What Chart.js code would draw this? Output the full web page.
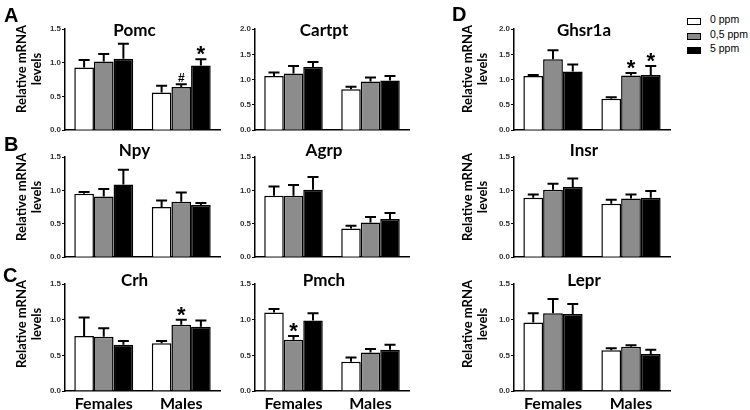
<!DOCTYPE html>
<html><head><meta charset="utf-8">
<script src="https://cdn.jsdelivr.net/npm/chart.js@4.4.0/dist/chart.umd.min.js"></script>
<style>
body{margin:0;background:#fff;width:750px;height:410px;position:relative;overflow:hidden}
.pc{position:absolute}
.ylab{position:absolute;width:120px;height:32px;font:bold 13px Lato,sans-serif;line-height:15px;text-align:center;color:#000;transform:rotate(-90deg);transform-origin:center center;white-space:nowrap}
.let{position:absolute;font:bold 20px "Liberation Sans",Arial,sans-serif;line-height:20px;color:#000}
.lg{position:absolute;left:687px;font:10.5px "Liberation Sans",Arial,sans-serif;color:#000}
.lg span.b{position:absolute;left:0;width:12px;height:5px;border:1.5px solid #000}
.lg span.t{position:absolute;left:23px;top:-5px;white-space:nowrap}
</style></head><body>
<script>
// ---------- DATA ----------
const groups = ['Females', 'Males'];
const seriesNames = ['0 ppm', '0,5 ppm', '5 ppm'];
const genes = ['Pomc', 'Cartpt', 'Ghsr1a', 'Npy', 'Agrp', 'Insr', 'Crh', 'Pmch', 'Lepr'];
const yMax = [1.5, 2.0, 2.0, 1.5, 1.5, 1.5, 1.5, 1.5, 1.5];
const yTicks = [0.0, 0.5, 1.0, 1.5, 2.0];
// means: [0 ppm, 0,5 ppm, 5 ppm] each [Females, Males]
const pomcMean   = [[0.93, 0.56], [1.02, 0.64], [1.06, 0.96]];
const pomcSem    = [[0.11, 0.10], [0.11, 0.04], [0.22, 0.09]];
const pomcSig    = [['', ''], ['', '#'], ['', '*']];
const cartptMean = [[1.07, 0.81], [1.12, 0.96], [1.25, 0.98]];
const cartptSem  = [[0.07, 0.05], [0.15, 0.08], [0.10, 0.09]];
const cartptSig  = [['', ''], ['', ''], ['', '']];
const ghsrMean   = [[1.07, 0.62], [1.40, 1.08], [1.16, 1.09]];
const ghsrSem    = [[0.02, 0.03], [0.18, 0.05], [0.14, 0.18]];
const ghsrSig    = [['', ''], ['', '*'], ['', '*']];
const npyMean    = [[0.95, 0.75], [0.91, 0.83], [1.09, 0.78]];
const npySem     = [[0.025, 0.10], [0.11, 0.14], [0.22, 0.03]];
const npySig     = [['', ''], ['', ''], ['', '']];
const agrpMean   = [[0.92, 0.43], [0.92, 0.52], [1.01, 0.57]];
const agrpSem    = [[0.14, 0.04], [0.16, 0.08], [0.19, 0.09]];
const agrpSig    = [['', ''], ['', ''], ['', '']];
const insrMean   = [[0.89, 0.80], [1.01, 0.88], [1.05, 0.89]];
const insrSem    = [[0.05, 0.06], [0.09, 0.06], [0.13, 0.10]];
const insrSig    = [['', ''], ['', ''], ['', '']];
const crhMean    = [[0.77, 0.67], [0.76, 0.93], [0.65, 0.90]];
const crhSem     = [[0.26, 0.03], [0.12, 0.07], [0.05, 0.09]];
const crhSig     = [['', ''], ['', '*'], ['', '']];
const pmchMean   = [[1.10, 0.41], [0.72, 0.54], [0.99, 0.58]];
const pmchSem    = [[0.05, 0.06], [0.05, 0.05], [0.10, 0.07]];
const pmchSig    = [['', ''], ['*', ''], ['', '']];
const leprMean   = [[0.96, 0.57], [1.09, 0.62], [1.08, 0.52]];
const leprSem    = [[0.13, 0.03], [0.20, 0.02], [0.14, 0.06]];
const leprSig    = [['', ''], ['', ''], ['', '']];

const panelMeans = [pomcMean, cartptMean, ghsrMean, npyMean, agrpMean, insrMean, crhMean, pmchMean, leprMean];
const panelSems  = [pomcSem, cartptSem, ghsrSem, npySem, agrpSem, insrSem, crhSem, pmchSem, leprSem];
const panelSigs  = [pomcSig, cartptSig, ghsrSig, npySig, agrpSig, insrSig, crhSig, pmchSig, leprSig];

// ---------- STYLE / LAYOUT ----------
const fills = ['#ffffff', '#8c8c8c', '#000000'];
const cols = [{L: 65, R: 220}, {L: 255, R: 409}, {L: 514, R: 670}];
const rows = [{T: 29, B: 133, tdy: 7}, {T: 157, B: 260, tdy: -1}, {T: 284, B: 388, tdy: 2}];
const AXW = 26, PADT = 18, PADR = 4;

const extras = {
  id: 'extras',
  afterDatasetsDraw(chart, args, o) {
    const ctx = chart.ctx, ca = chart.chartArea, y = chart.scales.y;
    ctx.save();
    chart.data.datasets.forEach((ds, di) => {
      const meta = chart.getDatasetMeta(di);
      meta.data.forEach((bar, i) => {
        const top = y.getPixelForValue(ds.data[i] + ds.sem[i]);
        ctx.strokeStyle = '#000'; ctx.lineWidth = 2;
        ctx.beginPath();
        ctx.moveTo(bar.x, bar.y); ctx.lineTo(bar.x, top);
        ctx.moveTo(bar.x - 5.5, top); ctx.lineTo(bar.x + 5.5, top);
        ctx.stroke();
        const s = ds.sig[i];
        if (s) {
          ctx.fillStyle = '#000'; ctx.textAlign = 'center'; ctx.textBaseline = 'alphabetic';
          if (s === '*') { ctx.font = 'bold 22px "Liberation Sans", Arial, sans-serif'; ctx.fillText('*', bar.x, top + 2); }
          else { ctx.font = 'bold 12px "Liberation Sans", Arial, sans-serif'; ctx.fillText(s, bar.x, top - 2.5); }
        }
      });
    });
    ctx.font = 'bold 17px Lato, sans-serif';
    ctx.fillStyle = '#000'; ctx.textAlign = 'center'; ctx.textBaseline = 'alphabetic';
    ctx.fillText(o.title, (ca.left + ca.right) / 2 - 8, ca.top + o.tdy);
    ctx.restore();
  }
};

function makePanel(k) {
  const c = cols[k % 3], r = rows[Math.floor(k / 3)];
  const showX = Math.floor(k / 3) === 2;
  const bottomH = showX ? 24 : 0;
  const w = c.R - c.L + AXW + PADR, h = r.B - r.T + PADT + bottomH + 3;
  const div = document.createElement('div');
  div.className = 'pc';
  div.style.left = (c.L - AXW) + 'px'; div.style.top = (r.T - PADT) + 'px';
  div.style.width = w + 'px'; div.style.height = h + 'px';
  const cv = document.createElement('canvas');
  cv.width = w; cv.height = h; cv.style.width = w + 'px'; cv.style.height = h + 'px';
  div.appendChild(cv); document.body.appendChild(div);
  new Chart(cv, {
    type: 'bar',
    data: {
      labels: groups,
      datasets: seriesNames.map((n, s) => ({
        label: n, data: panelMeans[k][s], sem: panelSems[k][s], sig: panelSigs[k][s],
        backgroundColor: fills[s], borderColor: '#000', borderWidth: 1.5,
        categoryPercentage: 0.76, barPercentage: 1.0
      }))
    },
    options: {
      responsive: false, animation: false, devicePixelRatio: 1,
      layout: {padding: {top: PADT, right: PADR, bottom: showX ? 0 : 3, left: 0}},
      plugins: {legend: {display: false}, tooltip: {enabled: false}, extras: {title: genes[k], tdy: r.tdy}},
      scales: {
        x: {
          offset: true,
          grid: {display: false, drawTicks: false},
          border: {display: true, color: '#000', width: 1.5},
          ticks: {display: showX, padding: 3, color: '#000', font: {family: 'Lato', weight: 'bold', size: 16}},
          afterFit: s => { s.height = bottomH; }
        },
        y: {
          min: 0, max: yMax[k],
          afterBuildTicks: s => { s.ticks = yTicks.filter(v => v <= yMax[k]).map(v => ({value: v})); },
          grid: {display: true, drawOnChartArea: false, drawTicks: true, tickLength: 3, color: '#000', lineWidth: 1},
          border: {display: true, color: '#000', width: 1.5},
          ticks: {padding: 1, color: '#333', font: {family: 'Liberation Sans', weight: 'bold', size: 8}, callback: v => Number(v).toFixed(1)},
          afterFit: s => { s.width = AXW; }
        }
      }
    },
    plugins: [extras]
  });
}
for (let k = 0; k < 9; k++) makePanel(k);

// y-axis titles
[[29.5, 0], [29.5, 1], [29.5, 2], [475.5, 0], [475.5, 1], [475.5, 2]].forEach(([cx, ri]) => {
  const r = rows[ri];
  const cy = (r.T + r.B) / 2 - 12;
  const d = document.createElement('div');
  d.className = 'ylab';
  d.innerHTML = 'Relative mRNA<br>levels';
  d.style.left = (cx - 60) + 'px'; d.style.top = (cy - 16) + 'px';
  document.body.appendChild(d);
});
// panel letters
[['A', 4, 5], ['B', 4, 134], ['C', 3, 265], ['D', 452, 4]].forEach(([t, x, y]) => {
  const d = document.createElement('div'); d.className = 'let'; d.textContent = t;
  d.style.left = x + 'px'; d.style.top = y + 'px'; document.body.appendChild(d);
});
// legend
seriesNames.forEach((n, s) => {
  const d = document.createElement('div'); d.className = 'lg';
  d.style.top = (18 + s * 14.5) + 'px';
  d.innerHTML = '<span class="b" style="background:' + fills[s] + '"></span><span class="t">' + n + '</span>';
  document.body.appendChild(d);
});
</script>
</body></html>
